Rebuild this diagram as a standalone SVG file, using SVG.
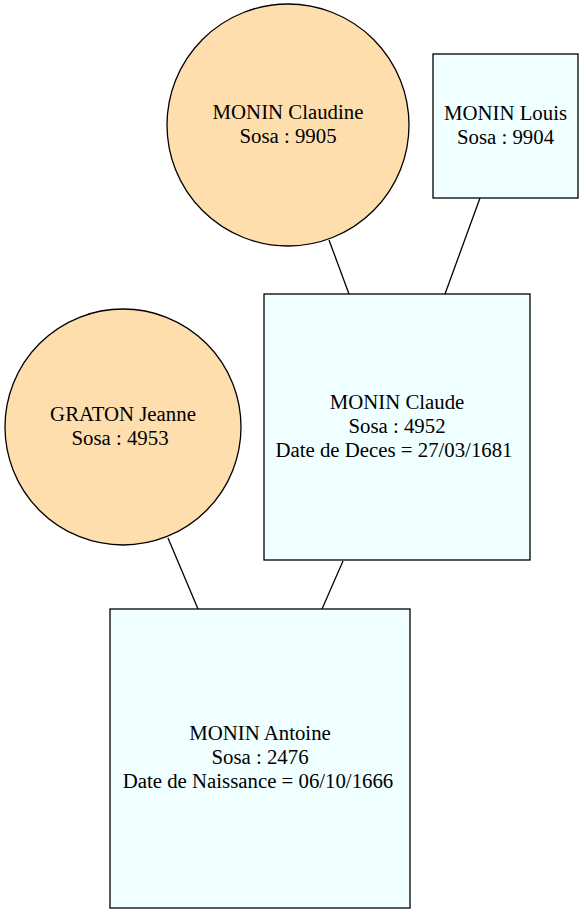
<svg xmlns="http://www.w3.org/2000/svg" width="583" height="915" viewBox="0 0 583 915">
<style>
.f{fill:#ffdead;stroke:#000;stroke-width:1.3}
.m{fill:#f0ffff;stroke:#000;stroke-width:1.3}
.e{stroke:#000;stroke-width:1.3;fill:none}
text{font-family:'Liberation Serif','Times New Roman',Times,serif;font-size:20.8px;text-anchor:middle;fill:#000}
</style>
<rect width="583" height="915" fill="#fff"/>
<g id="edges">
<line class="e" x1="329" y1="240" x2="349" y2="294"/>
<line class="e" x1="480" y1="198" x2="445" y2="294"/>
<line class="e" x1="168" y1="538" x2="198" y2="609"/>
<line class="e" x1="343" y1="561" x2="322" y2="609"/>
</g>
<g id="claudine">
<circle class="f" cx="288" cy="125" r="121"/>
<text x="288" y="119">MONIN Claudine</text>
<text x="288" y="143">Sosa : 9905</text>
</g>
<g id="louis">
<rect class="m" x="433" y="54" width="145" height="144"/>
<text x="505.5" y="120">MONIN Louis</text>
<text x="505.5" y="144">Sosa : 9904</text>
</g>
<g id="claude">
<rect class="m" x="264" y="294" width="266" height="266"/>
<text x="397" y="409">MONIN Claude</text>
<text x="397" y="433">Sosa : 4952</text>
<text x="394" y="457">Date de Deces = 27/03/1681</text>
</g>
<g id="jeanne">
<circle class="f" cx="123" cy="427" r="118"/>
<text x="123" y="421">GRATON Jeanne</text>
<text x="120" y="445">Sosa : 4953</text>
</g>
<g id="antoine">
<rect class="m" x="110" y="609" width="300" height="299"/>
<text x="260" y="740">MONIN Antoine</text>
<text x="260" y="764">Sosa : 2476</text>
<text x="258" y="788">Date de Naissance = 06/10/1666</text>
</g>
</svg>
